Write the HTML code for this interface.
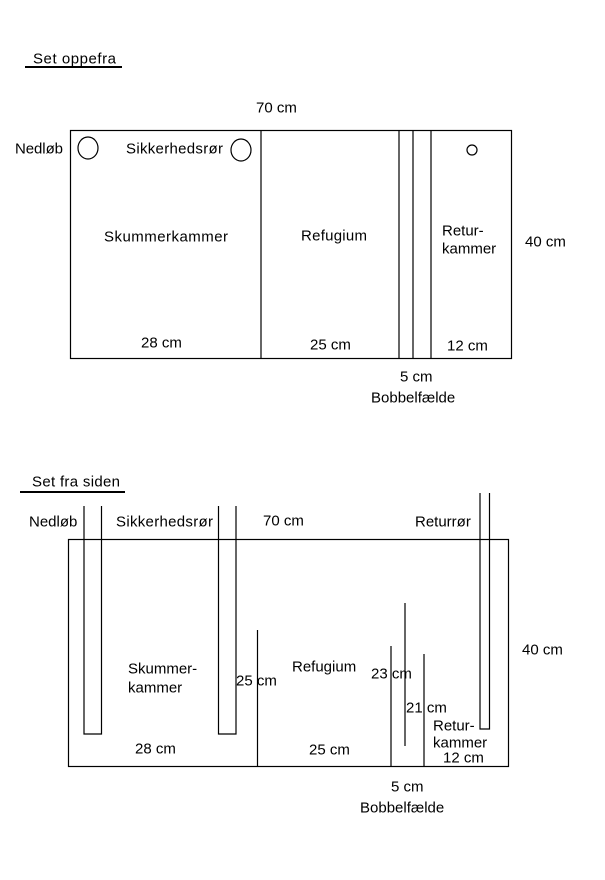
<!DOCTYPE html>
<html><head><style>
html,body{margin:0;padding:0;background:#fff;}
svg{display:block;}
text{font-family:"Liberation Sans",Arial,sans-serif;font-size:15px;fill:#000;dominant-baseline:central;}
</style></head><body>
<svg width="605" height="880" viewBox="0 0 605 880" xmlns="http://www.w3.org/2000/svg">
<g stroke="#000" stroke-width="1.2" fill="none">
<!-- top view -->
<line x1="25" y1="67" x2="122" y2="67" stroke-width="2"/>
<rect x="70.5" y="130.5" width="441" height="228"/>
<line x1="261" y1="130" x2="261" y2="358"/>
<line x1="399" y1="130" x2="399" y2="358"/>
<line x1="413" y1="130" x2="413" y2="358"/>
<line x1="431" y1="130" x2="431" y2="358"/>
<ellipse cx="88" cy="148" rx="10" ry="11"/>
<ellipse cx="241" cy="150" rx="10" ry="11"/>
<ellipse cx="472" cy="150" rx="5" ry="5"/>
<!-- side view -->
<line x1="20" y1="492" x2="125" y2="492" stroke-width="2"/>
<rect x="68.5" y="539.5" width="440" height="227"/>
<polyline points="84,506 84,734 101.5,734 101.5,506"/>
<polyline points="218.5,506 218.5,734 236,734 236,506"/>
<polyline points="480,493 480,729 489.5,729 489.5,493"/>
<line x1="257.5" y1="630" x2="257.5" y2="766"/>
<line x1="391" y1="646" x2="391" y2="766"/>
<line x1="405" y1="603" x2="405" y2="746"/>
<line x1="424" y1="654" x2="424" y2="766"/>
</g>
<text x="33" y="59" textLength="83">Set oppefra</text>
<text x="256" y="108">70 cm</text>
<text x="15" y="149" textLength="48">Nedløb</text>
<text x="126" y="149" textLength="97">Sikkerhedsrør</text>
<text x="104" y="237" textLength="124">Skummerkammer</text>
<text x="301" y="236" textLength="66">Refugium</text>
<text x="442" y="231">Retur-</text>
<text x="442" y="249">kammer</text>
<text x="525" y="242">40 cm</text>
<text x="141" y="343">28 cm</text>
<text x="310" y="345">25 cm</text>
<text x="447" y="346">12 cm</text>
<text x="400" y="377">5 cm</text>
<text x="371" y="398">Bobbelfælde</text>

<text x="32" y="482" textLength="88">Set fra siden</text>
<text x="29" y="522">Nedløb</text>
<text x="116" y="522" textLength="97">Sikkerhedsrør</text>
<text x="263" y="521">70 cm</text>
<text x="415" y="522">Returrør</text>
<text x="522" y="650">40 cm</text>
<text x="128" y="669">Skummer-</text>
<text x="128" y="688">kammer</text>
<text x="236" y="681">25 cm</text>
<text x="292" y="667">Refugium</text>
<text x="371" y="674">23 cm</text>
<text x="406" y="708">21 cm</text>
<text x="433" y="726">Retur-</text>
<text x="433" y="743">kammer</text>
<text x="443" y="758">12 cm</text>
<text x="135" y="749">28 cm</text>
<text x="309" y="750">25 cm</text>
<text x="391" y="787">5 cm</text>
<text x="360" y="808">Bobbelfælde</text>
</svg>
</body></html>
